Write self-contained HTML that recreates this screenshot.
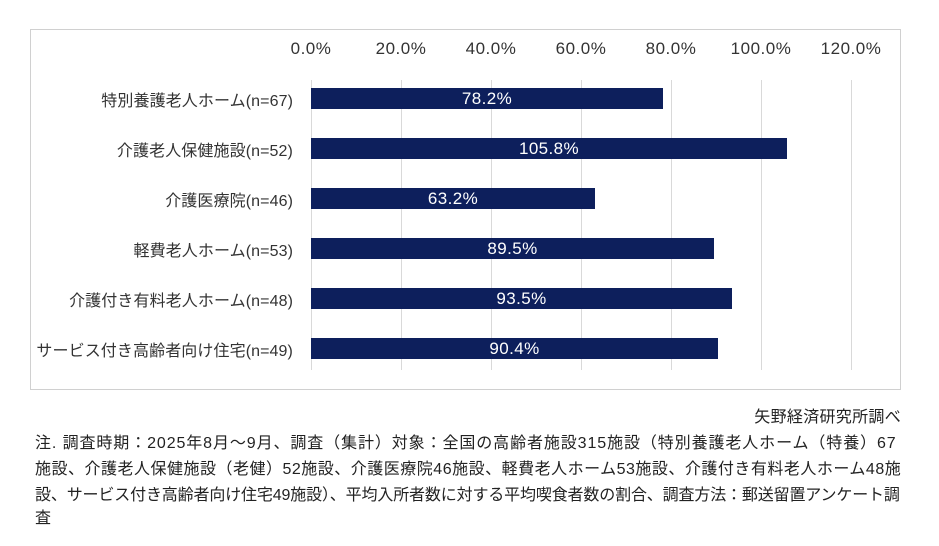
<!DOCTYPE html>
<html><head><meta charset="utf-8"><style>
body{margin:0;width:939px;height:546px;background:#fff;font-family:"Liberation Sans","Noto Sans CJK JP",sans-serif;color:#222;position:relative;overflow:hidden}
.box{position:absolute;left:30px;top:29px;width:871px;height:361px;border:1px solid #d0d0d0;box-sizing:border-box}
.g{position:absolute;top:80px;height:290px;width:1px;background:#d9d9d9}
.t{position:absolute;top:39px;font-size:17px;letter-spacing:0.5px;width:90px;text-align:center;color:#333}
.l{position:absolute;right:646px;font-size:16px;letter-spacing:0.1px;white-space:nowrap;color:#333}
.b{position:absolute;left:311px;height:21px;background:#0d1f5c;color:#fff;font-size:17px;letter-spacing:0.4px;text-align:center;line-height:22px}
.n{position:absolute;font-size:16px;white-space:nowrap;color:#222}
</style></head><body>
<div class="box"></div>
<div class="g" style="left:311px"></div><div class="g" style="left:401px"></div><div class="g" style="left:491px"></div><div class="g" style="left:581px"></div><div class="g" style="left:671px"></div><div class="g" style="left:761px"></div><div class="g" style="left:851px"></div>
<div class="t" style="left:266px">0.0%</div><div class="t" style="left:356px">20.0%</div><div class="t" style="left:446px">40.0%</div><div class="t" style="left:536px">60.0%</div><div class="t" style="left:626px">80.0%</div><div class="t" style="left:716px">100.0%</div><div class="t" style="left:806px">120.0%</div>
<div class="l" style="top:87px">特別養護老人ホーム(n=67)</div>
<div class="l" style="top:137px">介護老人保健施設(n=52)</div>
<div class="l" style="top:187px">介護医療院(n=46)</div>
<div class="l" style="top:237px">軽費老人ホーム(n=53)</div>
<div class="l" style="top:287px">介護付き有料老人ホーム(n=48)</div>
<div class="l" style="top:337px">サービス付き高齢者向け住宅(n=49)</div>
<div class="b" style="top:88px;width:352px">78.2%</div>
<div class="b" style="top:138px;width:476px">105.8%</div>
<div class="b" style="top:188px;width:284px">63.2%</div>
<div class="b" style="top:238px;width:403px">89.5%</div>
<div class="b" style="top:288px;width:421px">93.5%</div>
<div class="b" style="top:338px;width:407px">90.4%</div>
<div class="n" style="right:38px;top:403px;letter-spacing:0.3px">矢野経済研究所調べ</div>
<div class="n" style="left:35px;top:429px;letter-spacing:0.9px">注. 調査時期：2025年8月～9月、調査（集計）対象：全国の高齢者施設315施設（特別養護老人ホーム（特養）67</div>
<div class="n" style="left:35px;top:455px;letter-spacing:0.5px">施設、介護老人保健施設（老健）52施設、介護医療院46施設、軽費老人ホーム53施設、介護付き有料老人ホーム48施</div>
<div class="n" style="left:35px;top:481px;letter-spacing:-0.15px">設、サービス付き高齢者向け住宅49施設）、平均入所者数に対する平均喫食者数の割合、調査方法：郵送留置アンケート調</div>
<div class="n" style="left:35px;top:504px">査</div>
</body></html>
